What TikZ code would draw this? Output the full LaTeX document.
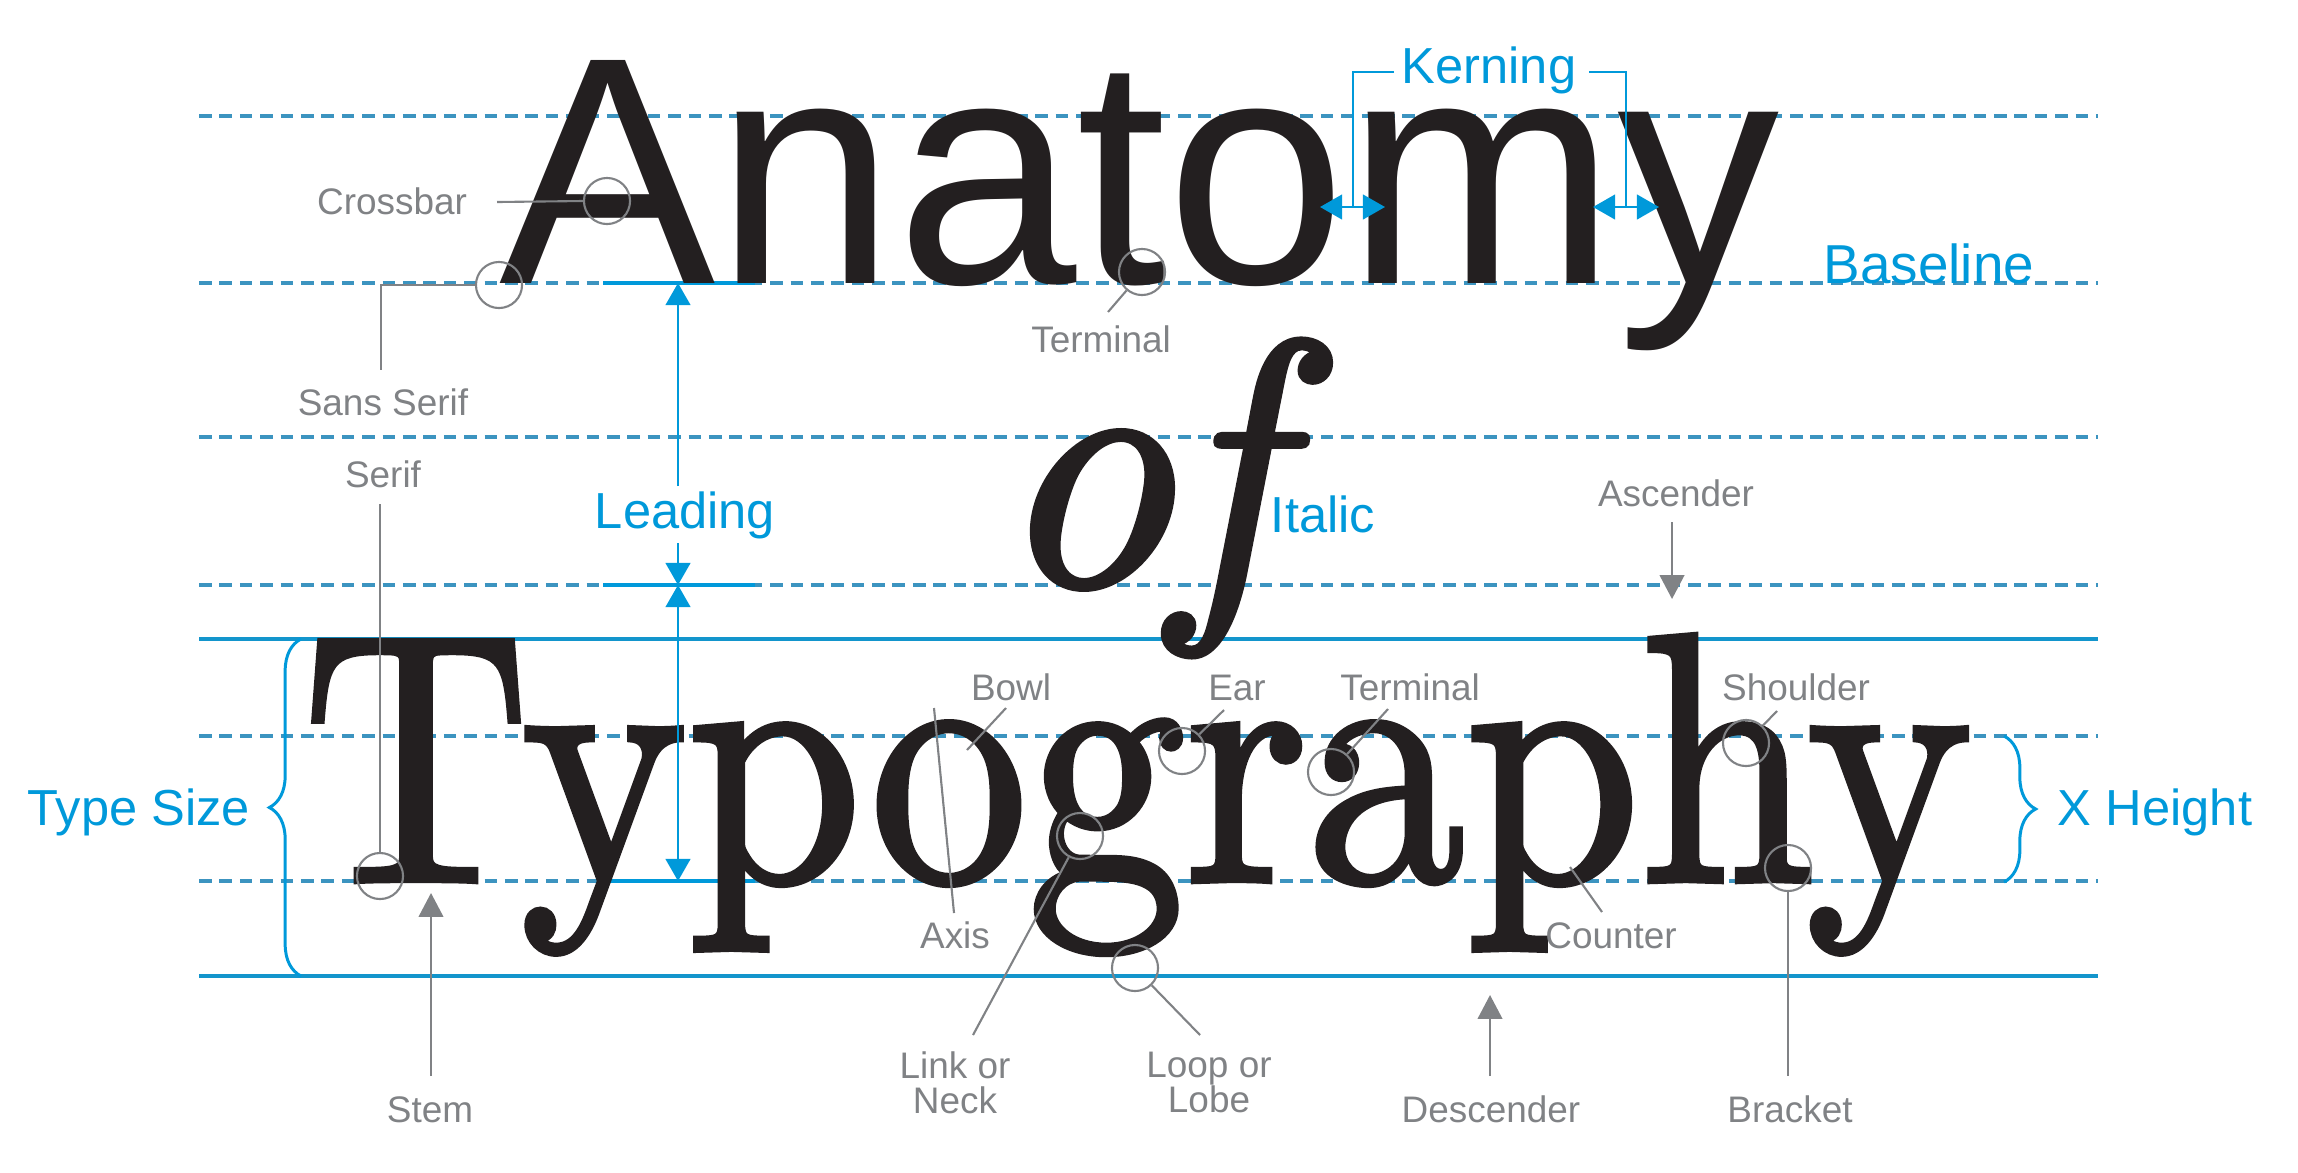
\documentclass[tikz,border=0pt]{standalone}
\usepackage{fontspec}
\usepackage{graphicx}
\newfontfamily\lab{Liberation Sans}
\newfontfamily\typo{lmroman10-regular.otf}[ItalicFont=lmroman10-italic.otf,FakeBold=1.8]
\usetikzlibrary{arrows.meta,decorations.pathreplacing}
\definecolor{tblue}{RGB}{0,153,218}
\definecolor{dblue}{RGB}{60,148,192}
\definecolor{lgray}{RGB}{128,130,133}
\definecolor{ink}{RGB}{35,31,32}
\begin{document}
\begin{tikzpicture}[x=0.01cm,y=-0.01cm,
  dline/.style={draw=dblue, line width=0.9pt, dash pattern=on 3.6pt off 2.2pt},
  sline/.style={draw=tblue!85!gray, line width=0.9pt},
  leadseg/.style={draw=tblue, line width=1.2pt},
  bline/.style={draw=tblue, line width=0.8pt},
  barrow/.style={bline, -{Triangle[width=7pt,length=6.3pt]}},
  bdarrow/.style={bline, {Triangle[width=7pt,length=6.3pt]}-{Triangle[width=7pt,length=6.3pt]}},
  bbrace/.style={draw=tblue, line width=0.85pt, decorate, decoration={brace, amplitude=9pt}},
  gline/.style={draw=lgray, line width=0.6pt},
  garrow/.style={gline, -{Triangle[width=7pt,length=6.8pt]}},
  ring/.style={circle, draw=lgray, line width=0.6pt, minimum size=13.1pt, inner sep=0pt},
  glab/.style={font=\lab\fontsize{10.5}{10}\selectfont, text=lgray, inner sep=0pt},
  blab/.style={font=\lab\fontsize{14.4}{16}\selectfont, text=tblue, inner sep=0pt},
  big/.style={anchor=base west, inner sep=0pt, text=ink},
]
\useasboundingbox (0,0) rectangle (2298,1172);
% guide lines
\foreach \yy in {116,283,437,585,736,881} \draw[dline] (199,\yy) -- (2098,\yy);
\draw[sline] (199,639) -- (2098,639);
\draw[sline] (199,976) -- (2098,976);
\foreach \yy in {283,585,881} \draw[leadseg] (603,\yy) -- (755,\yy);

% big words
\node[big, font=\lab\fontsize{92.2}{97}\selectfont] (anat) at (499,283) {Anatomy};
\node[big, font=\typo\itshape\fontsize{99}{105}\selectfont] (of) at (994,585) {of};
\node[big, font=\typo\fontsize{100.8}{105}\selectfont] (typo) at (302,881) {\scalebox{0.887}[1]{Typography}};

% blue labels
\node[blab, anchor=base] (kern) at (1489,83) {Kerning};
\node[blab, anchor=base west, font=\lab\fontsize{15.6}{17}\selectfont] (basel) at (1823,283) {Baseline};
\node[blab, anchor=base] (leadlbl) at (685,528) {Leading};
\node[blab, anchor=base] (ital) at (1323,532) {Italic};
\node[blab, anchor=base] (tsize) at (139,825) {Type Size};
\node[blab, anchor=base] (xh) at (2155,825) {X Height};

% kerning bracket
\coordinate (kl) at (1394,72);
\coordinate (kr) at (1589,72);
\coordinate (k1) at (1353,207);
\coordinate (k2) at (1626,207);
\draw[bline] (kl) -| (k1);
\draw[bline] (kr) -| (k2);
\coordinate (ka1) at (1320,207); \coordinate (kb1) at (1385,207);
\coordinate (ka2) at (1593,207); \coordinate (kb2) at (1659,207);
\draw[bdarrow] (ka1) -- (kb1);
\draw[bdarrow] (ka2) -- (kb2);

% leading
\coordinate (l2) at (678,283);
\coordinate (l4) at (678,585);
\coordinate (l7) at (678,881);
\coordinate (lt) at (678,486);
\coordinate (lb) at (678,543);
\draw[barrow] (lt) -- (l2);
\draw[barrow] (lb) -- (l4);
\draw[bdarrow] (l4) -- (l7);

% braces
\draw[bbrace] (301,976) -- (301,639);
\draw[bbrace] (2004,736) -- (2004,882);

% rings
\node[ring] (cCross) at (607,201) {};
\node[ring] (cSans) at (499,285) {};
\node[ring] (cSerif) at (380,876) {};
\node[ring] (cTerm1) at (1142,272) {};
\node[ring] (cLink) at (1080,836) {};
\node[ring] (cLoop) at (1135,968) {};
\node[ring] (cEar) at (1182,751) {};
\node[ring] (cTerm2) at (1331,772) {};
\node[ring] (cShoulder) at (1746,743) {};
\node[ring] (cBracket) at (1788,868) {};

% gray labels
\node[glab, anchor=base] (tCross) at (392,214) {Crossbar};
\node[glab, anchor=base] (tSans) at (383,415) {Sans Serif};
\node[glab, anchor=base] (tSerif) at (383,487) {Serif};
\node[glab, anchor=base] (tTerm1) at (1101,352) {Terminal};
\node[glab, anchor=base] (tAsc) at (1676,506) {Ascender};
\node[glab, anchor=base] (tBowl) at (1011,700) {Bowl};
\node[glab, anchor=base] (tEar) at (1237,700) {Ear};
\node[glab, anchor=base] (tTerm2) at (1410,700) {Terminal};
\node[glab, anchor=base] (tShoulder) at (1796,700) {Shoulder};
\node[glab, anchor=base] (tAxis) at (955,948) {Axis};
\node[glab, anchor=base] (tCounter) at (1611,948) {Counter};
\node[glab, anchor=north, align=center] (tLink) at (955,1051) {Link or\\Neck};
\node[glab, anchor=north, align=center] (tLoop) at (1209,1051) {Loop or\\Lobe};
\node[glab, anchor=base] (tStem) at (430,1122) {Stem};
\node[glab, anchor=base] (tDesc) at (1491,1122) {Descender};
\node[glab, anchor=base] (tBracket) at (1790,1122) {Bracket};

% gray connectors
\coordinate (crossL) at (497,202);
\draw[gline] (crossL) -- (cCross.west);
\coordinate (sansT) at (381,370);
\draw[gline] (cSans.west) -| (sansT);
\coordinate (serifT) at (380,504);
\draw[gline] (serifT) -- (cSerif.north);
\coordinate (term1L) at (1108,312);
\draw[gline] (term1L) -- (cTerm1.230);
\coordinate (ascS) at (1672,522);
\coordinate (ascT) at (1672,599);
\draw[garrow] (ascS) -- (ascT);
\coordinate (bowlA) at (1006,708); \coordinate (bowlB) at (967,750);
\draw[gline] (bowlA) -- (bowlB);
\coordinate (axisA) at (934,708); \coordinate (axisB) at (954,913);
\draw[gline] (axisA) -- (axisB);
\coordinate (linkE) at (973,1035);
\draw[gline] (cLink.242) -- (linkE);
\coordinate (loopE) at (1200,1035);
\draw[gline] (cLoop.-46) -- (loopE);
\coordinate (earE) at (1224,710);
\draw[gline] (cEar.44) -- (earE);
\coordinate (term2E) at (1388,709);
\draw[gline] (cTerm2.48) -- (term2E);
\coordinate (shE) at (1777,711);
\draw[gline] (cShoulder.46) -- (shE);
\coordinate (cntA) at (1570,867); \coordinate (cntB) at (1602,912);
\draw[gline] (cntA) -- (cntB);
\coordinate (brE) at (1788,1076);
\draw[gline] (cBracket.south) -- (brE);
\coordinate (descS) at (1490,1076); \coordinate (descT) at (1490,995);
\draw[garrow] (descS) -- (descT);
\coordinate (stemS) at (431,1076); \coordinate (stemT) at (431,893);
\draw[garrow] (stemS) -- (stemT);
\end{tikzpicture}
\end{document}
